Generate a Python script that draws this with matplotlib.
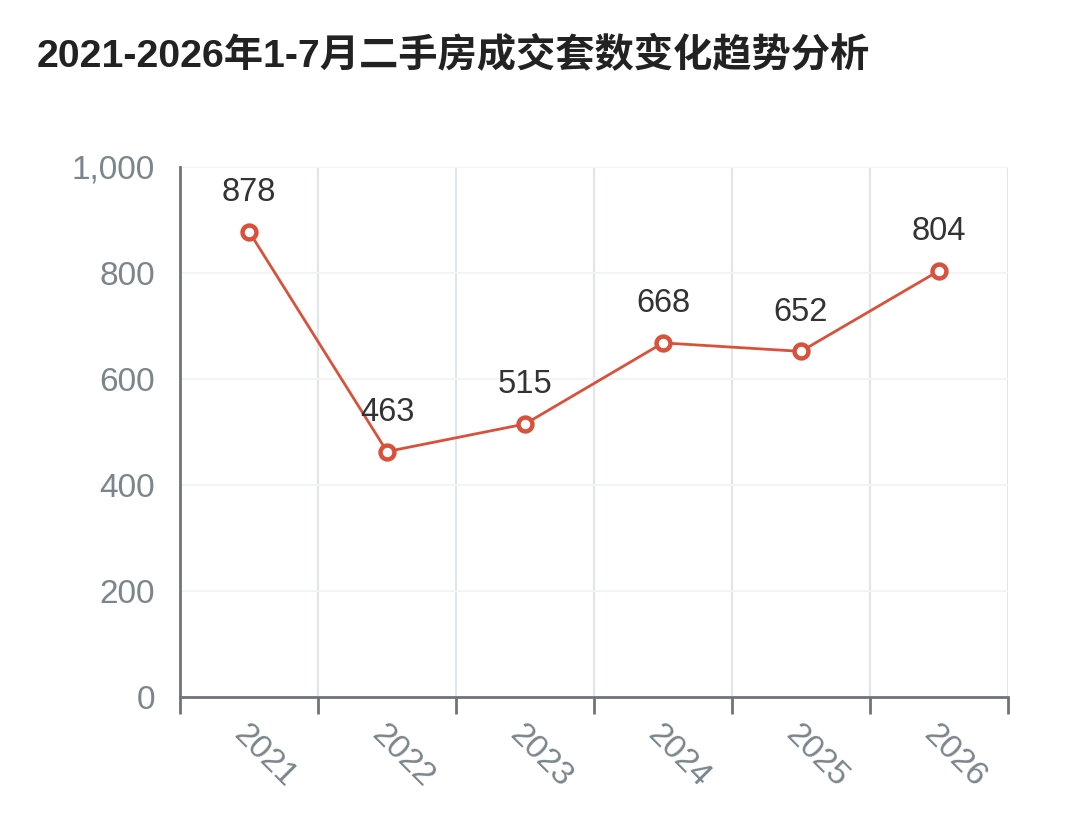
import matplotlib.pyplot as plt
from matplotlib.ticker import FuncFormatter

plt.rcParams['font.family'] = ['Liberation Sans', 'Noto Sans CJK SC', 'DejaVu Sans']

years = ['2021', '2022', '2023', '2024', '2025', '2026']
deals = [878, 463, 515, 668, 652, 804]

line_color = '#d9513a'
axis_color = '#6e7479'
label_grey = '#7a858c'

fig = plt.figure(figsize=(10.8, 8.22), dpi=100)
ax = fig.add_axes([0.1667, 0.152, 0.7666, 0.645])

x = list(range(len(years)))
ax.plot(x, deals, color=line_color, lw=2, marker='o', markersize=10,
        markerfacecolor='white', markeredgecolor=line_color, markeredgewidth=3.2,
        zorder=3)
for xi, v in zip(x, deals):
    ax.annotate(f'{v}', (xi, v), xytext=(0, 17), textcoords='offset points',
                ha='center', va='bottom', fontsize=23.5, color='#333333')

ax.set_xlim(-0.5, len(years) - 0.5)
ax.set_ylim(0, 1000)

# category boundaries get the ticks and vertical grid
bounds = [i - 0.5 for i in range(len(years) + 1)]
ax.set_xticks(bounds)
ax.set_xticklabels([])
ax.set_xticks(x, minor=True)
ax.set_xticklabels(years, minor=True, rotation=-45, ha='left', va='top',
                   rotation_mode='anchor', fontsize=24, color=label_grey)
ax.tick_params(axis='x', which='minor', length=0, pad=16)
ax.tick_params(axis='x', which='major', length=12, width=2, color=axis_color)

ax.set_yticks(range(0, 1001, 200))
ax.yaxis.set_major_formatter(FuncFormatter(lambda v, p: f'{int(v):,}'))
ax.tick_params(axis='y', length=0, pad=18, labelsize=24, labelcolor=label_grey)

ax.grid(axis='x', which='major', color='#dfe5ea', lw=1.5)
ax.grid(axis='y', color='#f2f4f5', lw=1.5)

for side in ['top', 'right']:
    ax.spines[side].set_visible(False)
ax.spines['left'].set_color(axis_color)
ax.spines['left'].set_linewidth(2)
ax.spines['bottom'].set_color(axis_color)
ax.spines['bottom'].set_linewidth(2)

fig.text(0.034, 0.932, '2021-2026年1-7月二手房成交套数变化趋势分析',
         fontsize=28.3, fontweight='bold', color='#222222', va='center', ha='left')

fig.savefig('out.png', dpi=100)
